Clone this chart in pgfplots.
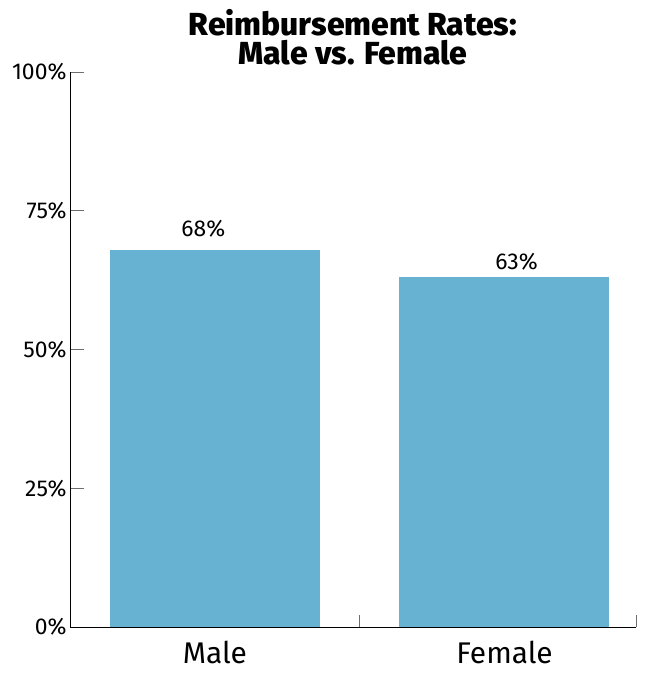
\documentclass[border=0pt]{standalone}
\usepackage{pgfplots}
\pgfplotsset{compat=1.18}
\usepackage{fontspec}
\setmainfont{Fira Sans}
\newfontfamily\titlefont{Fira Sans ExtraBold}
\definecolor{barblue}{RGB}{103,178,211}
\definecolor{tickgray}{RGB}{110,110,110}

\begin{document}
\begin{tikzpicture}
\useasboundingbox (-70bp,-52bp) rectangle (586bp,627bp);
\begin{axis}[
  at={(0,0)}, anchor=south west,
  scale only axis,
  width=566bp, height=555bp,
  xmin=-0.5, xmax=1.454,
  ymin=0, ymax=100,
  axis line style={draw=none},
  xtick pos=bottom, ytick pos=left,
  tick align=inside,
  xtick={0,1}, xticklabels={Male, Female},
  x tick label style={font=\fontsize{30}{32}\selectfont, yshift=-11bp},
  major x tick style={draw=none},
  extra x ticks={0.5,1.454},
  extra x tick labels={},
  extra x tick style={major tick length=12bp, major x tick style={draw=tickgray, line width=0.8pt}},
  ytick={0,25,50,75,100},
  yticklabel={\pgfmathprintnumber{\tick}\%},
  y tick label style={font=\fontsize{23}{25}\selectfont},
  /pgf/number format/assume math mode=true,
  major tick length=14bp,
  major y tick style={draw=tickgray, line width=0.8pt},
  bar width=210bp,
  clip=false,
  nodes near coords={\pgfmathprintnumber{\pgfplotspointmeta}\%},
]
% Male
\addplot[ybar, bar shift=0pt, fill=barblue, draw=none,
  every node near coord/.append style={font=\fontsize{23}{25}\selectfont, black, xshift=-11.5bp, yshift=9bp}]
  coordinates {(0,68)};
% Female
\addplot[ybar, bar shift=0pt, fill=barblue, draw=none,
  every node near coord/.append style={font=\fontsize{23}{25}\selectfont, black, xshift=12bp, yshift=4bp}]
  coordinates {(1,63)};
\draw[black, line width=0.8pt] (rel axis cs:0,1) -- (rel axis cs:0,0) -- (rel axis cs:1,0);
\node[align=center, font=\fontsize{32}{30}\selectfont\titlefont, anchor=south]
  at (rel axis cs:0.5,1) [yshift=3bp] {Reimbursement Rates:\\Male vs. Female};
\end{axis}
\end{tikzpicture}
\end{document}
